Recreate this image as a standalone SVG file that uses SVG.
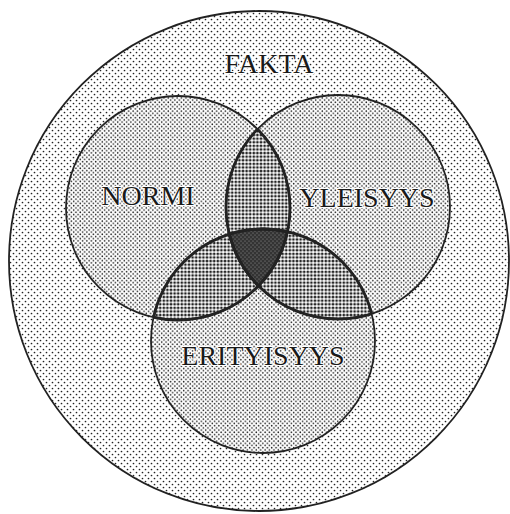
<svg xmlns="http://www.w3.org/2000/svg" width="510" height="514" viewBox="0 0 510 514">
  <defs>
    <pattern id="pOuter" width="6" height="6" patternUnits="userSpaceOnUse">
      <rect width="6" height="6" fill="#fff"/>
      <circle cx="1.5" cy="1.5" r="0.85" fill="#222"/>
      <circle cx="4.5" cy="4.5" r="0.85" fill="#222"/>
    </pattern>
    <pattern id="pSingle" width="4.4" height="4.4" patternUnits="userSpaceOnUse">
      <rect width="4.4" height="4.4" fill="#fff"/>
      <circle cx="1.1" cy="1.1" r="0.8" fill="#222"/>
      <circle cx="3.3" cy="3.3" r="0.8" fill="#222"/>
    </pattern>
    <pattern id="pDouble" width="3.6" height="3.6" patternUnits="userSpaceOnUse">
      <rect width="3.6" height="3.6" fill="#fff"/>
      <circle cx="1.8" cy="1.8" r="1.4" fill="#222"/>
    </pattern>
    <pattern id="pTriple" width="4" height="4" patternUnits="userSpaceOnUse">
      <rect width="4" height="4" fill="#333"/>
      <circle cx="1" cy="1" r="0.6" fill="#999"/>
      <circle cx="3" cy="3" r="0.6" fill="#999"/>
    </pattern>
    <clipPath id="cNormi"><circle cx="178" cy="208" r="112"/></clipPath>
    <clipPath id="cYleisyys"><circle cx="338" cy="207" r="112"/></clipPath>
    <clipPath id="cErityisyys"><circle cx="263" cy="341" r="112"/></clipPath>
  </defs>
  <style>
    .edge { fill: none; stroke: #222; stroke-width: 1.8; }
    .lens { fill: none; stroke: #222; stroke-width: 2.8; }
    .lbl { font-family: "Liberation Serif", "DejaVu Serif", serif; font-size: 28px; fill: #1a1a1a; text-anchor: middle; stroke: #fff; stroke-width: 2; paint-order: stroke; }
  </style>
  <rect width="510" height="514" fill="#fff"/>

  <g id="fakta">
    <circle cx="259" cy="261" r="250" fill="url(#pOuter)"/>
    <circle cx="259" cy="261" r="250" class="edge"/>
    <text class="lbl" x="269" y="73">FAKTA</text>
  </g>

  <g id="normi">
    <circle cx="178" cy="208" r="112" fill="url(#pSingle)"/>
  </g>
  <g id="yleisyys">
    <circle cx="338" cy="207" r="112" fill="url(#pSingle)"/>
  </g>
  <g id="erityisyys">
    <circle cx="263" cy="341" r="112" fill="url(#pSingle)"/>
  </g>

  <g id="overlaps">
    <circle cx="178" cy="208" r="112" fill="url(#pDouble)" clip-path="url(#cYleisyys)"/>
    <circle cx="178" cy="208" r="112" fill="url(#pDouble)" clip-path="url(#cErityisyys)"/>
    <circle cx="338" cy="207" r="112" fill="url(#pDouble)" clip-path="url(#cErityisyys)"/>
    <g clip-path="url(#cErityisyys)">
      <circle cx="178" cy="208" r="112" fill="url(#pTriple)" clip-path="url(#cYleisyys)"/>
    </g>
  </g>

  <g id="outlines">
    <circle cx="178" cy="208" r="112" class="edge"/>
    <circle cx="338" cy="207" r="112" class="edge"/>
    <circle cx="263" cy="341" r="112" class="edge"/>
    <circle cx="178" cy="208" r="112" class="lens" clip-path="url(#cYleisyys)"/>
    <circle cx="178" cy="208" r="112" class="lens" clip-path="url(#cErityisyys)"/>
    <circle cx="338" cy="207" r="112" class="lens" clip-path="url(#cNormi)"/>
    <circle cx="338" cy="207" r="112" class="lens" clip-path="url(#cErityisyys)"/>
    <circle cx="263" cy="341" r="112" class="lens" clip-path="url(#cNormi)"/>
    <circle cx="263" cy="341" r="112" class="lens" clip-path="url(#cYleisyys)"/>
  </g>

  <g id="labels">
    <text class="lbl" x="148" y="205">NORMI</text>
    <text class="lbl" x="367" y="207">YLEISYYS</text>
    <text class="lbl" x="263" y="365">ERITYISYYS</text>
  </g>
</svg>
